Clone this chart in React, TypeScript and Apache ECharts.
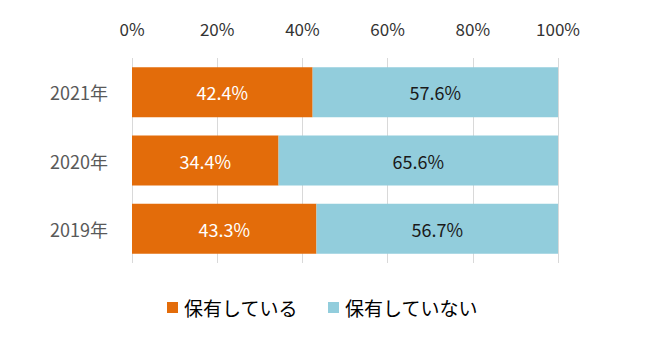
import React, { useEffect, useRef } from "react";
import * as echarts from "echarts";

const categories = ["2019年", "2020年", "2021年"];
const owned = [43.3, 34.4, 42.4];
const notOwned = [56.7, 65.6, 57.6];
const seriesNames = ["保有している", "保有していない"];
const xTicks = { min: 0, max: 100, interval: 20 };

const FONT = "'Noto Sans CJK JP', 'Noto Sans', sans-serif";

export default function App() {
  const ref = useRef<HTMLDivElement>(null);
  useEffect(() => {
    if (!ref.current) return;
    const chart = echarts.init(ref.current, undefined, { renderer: "svg" });
    chart.setOption({
      animation: false,
      backgroundColor: "#ffffff",
      textStyle: { fontFamily: FONT },
      grid: { left: 132, right: 92, top: 58, bottom: 98, containLabel: false },
      legend: {
        data: seriesNames,
        bottom: 44,
        left: 167,
        padding: 0,
        itemWidth: 11,
        itemHeight: 11,
        itemGap: 30,
        icon: "rect",
        textStyle: { fontSize: 19, color: "#000000", fontFamily: FONT, padding: [0, 0, 0, 1] },
      },
      xAxis: {
        type: "value",
        position: "top",
        min: xTicks.min,
        max: xTicks.max,
        interval: xTicks.interval,
        axisLine: { show: false },
        axisTick: { show: false },
        axisLabel: {
          formatter: "{value}%",
          margin: 21,
          fontSize: 17,
          color: "#333333",
          fontFamily: FONT,
        },
        splitLine: { show: true, lineStyle: { color: "#d9d9d9", width: 1 } },
      },
      yAxis: {
        type: "category",
        data: categories,
        axisLine: { show: false },
        axisTick: { show: false },
        axisLabel: { fontSize: 18, color: "#595959", margin: 24, fontFamily: FONT },
        splitLine: { show: false },
      },
      series: [
        {
          name: seriesNames[0],
          type: "bar",
          stack: "total",
          barWidth: 50,
          data: owned,
          itemStyle: { color: "#E36C0A" },
          label: {
            show: true,
            position: "inside",
            formatter: (p: any) => p.value.toFixed(1) + "%",
            color: "#ffffff",
            fontSize: 18,
            fontFamily: FONT,
          },
        },
        {
          name: seriesNames[1],
          type: "bar",
          stack: "total",
          barWidth: 50,
          data: notOwned,
          itemStyle: { color: "#92CDDC" },
          label: {
            show: true,
            position: "inside",
            formatter: (p: any) => p.value.toFixed(1) + "%",
            color: "#1a1a1a",
            fontSize: 18,
            fontFamily: FONT,
          },
        },
      ],
    });
    return () => chart.dispose();
  }, []);
  return (
    <div
      ref={ref}
      style={{ position: "absolute", left: 0, top: 0, width: 650, height: 361 }}
    />
  );
}
